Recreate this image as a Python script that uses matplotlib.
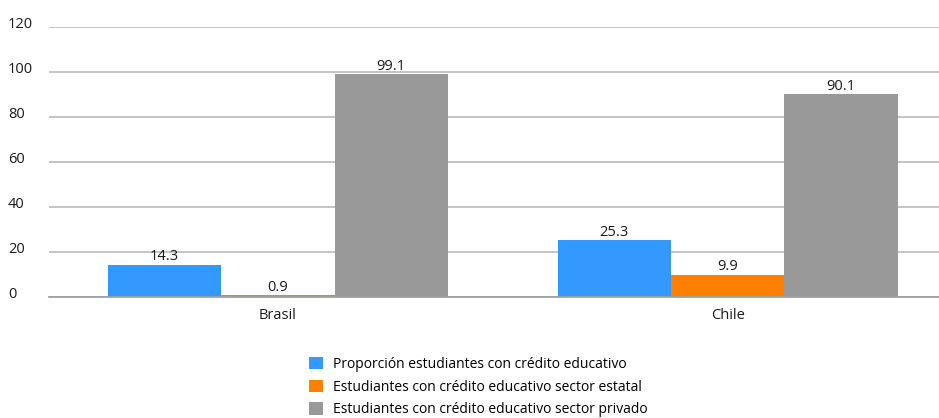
import matplotlib
matplotlib.use("Agg")
import matplotlib.pyplot as plt
import matplotlib.transforms as mtransforms
import numpy as np

categories = ["Brasil", "Chile"]
series_names = [
    "Proporción estudiantes con crédito educativo",
    "Estudiantes con crédito educativo sector estatal",
    "Estudiantes con crédito educativo sector privado",
]
values = [
    [14.3, 25.3],
    [0.9, 9.9],
    [99.1, 90.1],
]
labels = [
    ["14.3", "25.3"],
    ["0.9", "9.9"],
    ["99.1", "90.1"],
]
colors = ["#3399FF", "#FF8000", "#999999"]
yticks = [0, 20, 40, 60, 80, 100, 120]

plt.rcParams["font.family"] = ["Open Sans", "DejaVu Sans"]

fig = plt.figure(figsize=(9.39, 4.18), dpi=100)
ax = fig.add_axes([49/939, 121/418, 890/939, 270/418])

x = np.arange(len(categories))
w = 0.252
for i, (name, vals, labs, c) in enumerate(zip(series_names, values, labels, colors)):
    pos = x + (i - 1) * w
    bars = ax.bar(pos, vals, width=w, color=c, label=name, zorder=3, linewidth=0)
    for b, lab in zip(bars, labs):
        ax.text(b.get_x() + b.get_width()/2, b.get_height() + 0.2, lab,
                ha="center", va="bottom", fontsize=10.5, color="#1a1a1a", zorder=4)

ax.set_ylim(0, 120)
ax.set_xlim(-0.509, 1.47)
ax.set_yticks(yticks)
ax.set_yticklabels([])
trans = mtransforms.blended_transform_factory(fig.transFigure, ax.transData)
for t in yticks:
    ax.text(8/939, t + 1.0, str(t), transform=trans, ha="left", va="center",
            fontsize=10.5, color="#1a1a1a")
ax.set_xticks(x)
ax.set_xticklabels(categories, fontsize=10.5, color="#1a1a1a")
ax.tick_params(axis="y", length=0)
ax.tick_params(axis="x", length=0, pad=8)
ax.grid(axis="y", color="#BFBFBF", linewidth=1.3, zorder=0)
for s in ["top", "right", "left"]:
    ax.spines[s].set_visible(False)
ax.spines["bottom"].set_color("#A0A0A0")
ax.spines["bottom"].set_linewidth(1.3)
ax.spines["bottom"].set_zorder(5)

fig.legend(loc="upper left", bbox_to_anchor=(309/939, 1 - 357/418), frameon=False,
           fontsize=10, handlelength=1.0, handleheight=1.0, labelspacing=0.55,
           handletextpad=0.7, borderpad=0, borderaxespad=0)

fig.savefig("out.png", dpi=100)
